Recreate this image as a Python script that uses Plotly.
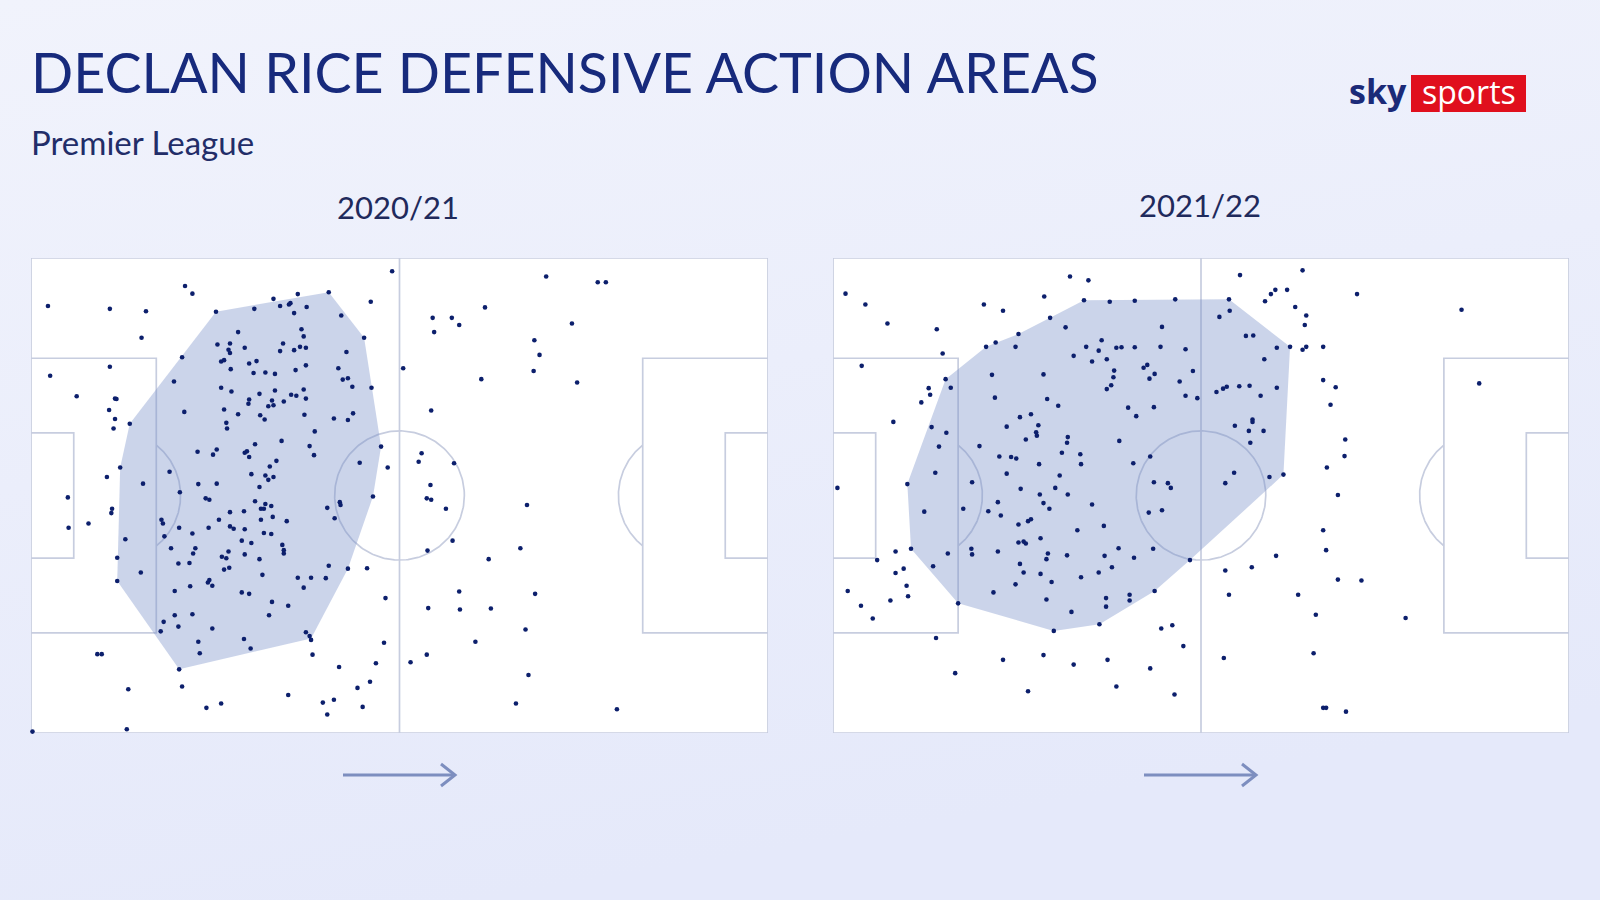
import base64
import numpy as np
import plotly.graph_objects as go

# ---------------- DATA (pitch coordinates: x 0-100 attacking left->right, y 0-100 from top touchline) ----------------
seasons = ["2020/21", "2021/22"]
title_text = "DECLAN RICE DEFENSIVE ACTION AREAS"
subtitle_text = "Premier League"

pts_2021 = [
    (49.0,2.8),(20.9,5.9),(21.9,7.5),(2.3,10.1),(10.7,10.7),(15.6,11.2),(40.4,7.2),(36.2,7.6),(32.9,8.6),(46.1,9.2),
    (30.3,10.7),(33.8,10.1),(35.0,9.8),(35.2,9.5),(37.4,10.3),(35.7,11.6),(25.1,11.3),(42.1,12.1),(15.0,16.8),(45.2,16.8),
    (28.1,15.6),(36.7,15.0),(37.0,16.5),(25.3,18.2),(27.0,18.0),(26.8,19.3),(27.0,20.0),(29.0,18.9),(34.2,18.0),(33.8,19.6),
    (35.7,19.4),(36.5,18.7),(37.3,18.9),(42.8,19.8),(20.5,20.9),(25.8,21.8),(26.2,21.5),(29.6,22.2),(30.6,21.7),(37.3,22.6),
    (10.7,22.9),(2.6,24.8),(27.1,23.4),(30.2,24.2),(31.8,24.1),(33.1,24.4),(35.9,23.6),(41.7,23.2),(42.3,25.6),(43.0,25.3),
    (19.4,26.0),(43.6,27.1),(46.2,27.3),(25.8,27.3),(27.2,28.1),(33.1,27.9),(31.0,28.6),(35.3,28.8),(36.0,29.0),(37.0,27.7),
    (37.3,29.6),(6.2,29.1),(11.4,29.6),(11.6,29.7),(29.6,29.8),(29.5,30.7),(32.7,30.0),(34.3,30.2),(32.2,31.2),(32.9,31.0),
    (10.6,32.0),(20.8,32.4),(26.2,31.9),(28.1,32.9),(31.1,33.1),(31.7,34.0),(37.1,33.0),(41.1,33.8),(43.0,34.1),(43.7,32.7),
    (11.4,33.9),(13.4,34.9),(11.2,35.9),(26.5,34.7),(26.6,35.9),(38.5,36.5),(30.4,39.2),(34.0,38.5),(37.8,39.6),(38.4,41.5),
    (47.5,39.7),(22.6,40.8),(24.7,41.4),(25.2,40.3),(29.0,41.0),(29.3,40.7),(29.6,41.9),(33.3,42.7),(44.6,43.1),(48.4,44.1),
    (12.1,44.1),(32.4,43.9),(18.8,45.0),(10.3,46.1),(29.9,45.5),(31.8,45.8),(32.2,46.7),(32.9,46.1),(15.2,47.5),(22.7,47.6),
    (25.2,47.5),(31.0,48.2),(20.2,49.3),
    (69.9,3.9),(76.9,5.1),(78.0,5.1),(61.6,10.4),(54.5,12.6),(57.1,12.6),(58.1,14.1),(54.7,15.6),(73.4,13.8),(68.3,17.3),
    (69.0,20.4),(68.2,23.8),(50.5,23.2),(61.1,25.5),(74.1,26.2),(54.3,32.1),(53.0,41.1),(52.6,42.9),(57.4,43.2),(54.2,47.8),
    (5.0,50.4),(23.7,50.6),(24.2,50.9),(30.4,51.2),(31.8,51.8),(31.2,52.8),(31.6,52.8),(32.6,52.2),(40.2,52.6),(41.9,51.4),
    (42.0,52.0),(46.4,50.2),(11.0,52.8),(10.9,53.7),(27.0,53.5),(28.9,53.3),(7.8,55.9),(5.1,56.8),(17.7,55.1),(17.9,55.9),
    (20.1,56.8),(24.1,56.8),(25.5,55.1),(27.0,56.5),(27.5,57.0),(29.0,57.1),(31.2,55.1),(32.8,54.5),(34.7,55.4),(41.2,54.8),
    (21.9,58.0),(31.6,57.9),(32.6,58.1),(18.1,58.6),(12.8,59.2),(28.6,59.5),(29.9,60.0),(34.1,60.4),(34.3,61.5),(34.3,62.2),
    (19.0,61.1),(22.3,61.1),(22.0,62.2),(26.8,61.8),(25.9,62.9),(26.5,63.2),(29.0,62.4),(31.0,63.4),(11.7,63.1),
    (20.0,64.3),(21.5,64.2),(26.9,65.2),(26.2,65.6),(40.4,64.8),(43.0,65.4),(45.6,65.3),(14.9,66.2),(31.4,66.7),(36.2,67.3),
    (38.0,67.3),(40.0,67.4),(11.7,68.0),(24.2,67.8),(24.0,68.3),(24.6,69.0),(37.0,69.4),(21.6,69.1),(19.5,70.1),(28.6,70.4),
    (29.6,70.7),(48.1,71.6),(32.7,72.4),(34.9,73.2),(32.3,75.2),(19.5,75.2),(21.9,75.0),(18.0,76.6),(17.6,78.6),(20.0,77.6),
    (24.6,78.0),(28.9,80.2),(29.8,82.2),(22.7,80.8),(22.9,83.2),(37.3,78.8),(37.8,79.6),(38.0,80.4),(38.2,83.5),(47.9,81.0),
    (46.8,85.3),(41.8,86.1),(46.0,89.2),(44.3,90.5),(20.1,86.6),(20.5,90.2),(9.0,83.4),(9.6,83.4),(13.2,90.8),(34.9,92.0),
    (25.8,93.8),(23.8,94.7),(39.6,93.6),(41.1,93.0),(40.2,96.1),(45.0,94.5),(13.0,99.2),(0.2,99.7),
    (53.7,50.6),(54.3,50.9),(56.3,52.8),(67.3,52.0),(57.2,59.5),(53.8,61.6),(66.4,61.1),(62.1,63.4),(58.1,70.2),(68.4,70.7),
    (53.9,73.7),(58.2,74.0),(62.4,73.8),(67.1,78.2),(60.3,80.8),(53.7,83.5),(51.5,85.1),(67.5,87.8),(65.8,93.8),(79.5,95.0),
]
hull_2021 = [(25.1,11.3),(40.4,7.2),(45.2,16.8),(47.5,39.7),(46.4,50.2),(43.0,65.4),(38.0,80.1),
             (20.1,86.6),(11.7,68.0),(12.1,44.1),(13.4,34.9)]

pts_2122 = [
    (1.7,7.5),(4.4,9.8),(7.4,13.8),(14.1,15.0),(14.9,20.1),(3.9,22.7),(20.5,9.8),(23.1,11.1),(28.7,8.1),(32.2,3.9),
    (34.7,4.7),(34.1,8.9),(37.6,9.2),(41.0,9.0),(46.5,8.7),(29.5,12.6),(31.6,14.6),(25.2,16.0),(20.8,18.7),(22.1,17.8),
    (24.8,18.7),(44.7,14.5),(36.5,17.3),(34.4,18.7),(36.1,19.5),(38.5,18.9),(39.2,18.8),(41.0,18.8),(44.5,18.7),(47.9,19.2),
    (32.7,20.6),(35.2,21.8),(37.2,21.3),(42.2,23.1),(42.7,22.5),(48.9,23.8),(21.6,24.6),(28.6,24.5),(38.2,23.7),(38.1,25.1),
    (43.7,24.4),(43.0,25.4),(37.8,26.8),(37.2,27.6),(47.1,26.0),(47.9,29.0),(49.5,29.5),(15.3,25.5),(16.0,27.3),(13.0,27.4),
    (13.2,28.8),(12.0,30.4),(22.0,29.4),(29.1,29.7),(30.6,31.1),(40.1,31.5),(41.2,33.3),(43.6,31.4),(8.2,34.5),(13.4,35.6),
    (15.4,36.8),(25.4,33.5),(26.9,32.9),(23.6,35.5),(27.9,35.2),(27.6,36.7),(27.7,37.4),(26.2,38.2),(31.9,37.7),(31.8,38.9),
    (38.9,38.5),(14.4,39.7),(19.9,39.6),(22.6,41.8),(24.2,41.9),(24.9,42.2),(31.1,41.0),(33.6,41.3),(33.7,43.4),(28.0,43.4),
    (43.1,41.8),(40.8,43.2),(13.9,45.2),(23.6,45.4),(30.8,45.8),(10.1,47.6),(18.9,47.2),(0.6,48.4),(25.5,48.6),(30.2,48.4),
    (31.9,49.8),(28.1,49.8),(43.6,47.2),(45.5,47.4),(45.9,48.4),
    (55.3,3.6),(63.8,2.6),(60.1,6.7),(61.7,6.7),(59.5,7.6),(58.7,9.1),(53.8,8.7),(53.9,11.1),(52.5,12.4),(62.8,10.3),
    (64.3,12.1),(64.1,14.1),(71.2,7.6),(85.4,10.9),(56.1,16.4),(57.1,16.3),(60.3,18.9),(62.1,18.7),(63.8,19.3),(64.3,18.7),
    (66.6,18.7),(58.6,21.3),(87.8,26.4),(66.6,25.7),(68.3,27.2),(67.6,30.9),(52.1,28.2),(53.0,27.5),(53.5,27.1),(55.2,27.0),
    (56.6,26.9),(58.1,29.0),(60.3,27.3),(57.0,34.0),(57.0,34.5),(54.6,35.3),(56.5,36.4),(58.5,36.4),(56.7,38.9),(69.6,38.2),
    (69.5,41.7),(67.1,44.1),(54.5,45.2),(53.3,47.4),(59.3,46.1),(61.2,45.6),(68.6,49.9),
    (22.4,51.4),(28.6,51.6),(29.4,52.8),(35.2,51.9),(42.9,53.6),(44.7,53.1),(12.4,53.4),(17.7,52.8),(21.1,53.3),(22.8,54.2),
    (25.2,56.1),(26.5,55.4),(26.9,55.0),(33.2,57.3),(36.8,56.4),(25.2,59.9),(25.9,59.7),(26.2,60.1),(28.2,59.0),(10.6,61.2),
    (8.5,61.8),(6.0,63.6),(15.6,62.2),(18.8,61.2),(18.9,62.4),(22.4,61.8),(29.2,62.2),(29.0,63.4),(31.8,62.6),(36.9,62.7),
    (38.8,61.1),(40.9,63.1),(43.5,61.2),(48.5,63.6),(13.6,64.9),(8.5,66.3),(9.6,65.4),(25.4,64.4),(25.9,66.2),(28.2,66.5),
    (37.9,65.1),(36.1,66.2),(33.7,67.2),(29.7,68.2),(24.8,68.7),(21.8,70.4),(29.0,71.9),(10.0,69.0),(10.2,71.2),(7.8,72.1),
    (2.0,70.1),(3.8,73.2),(5.4,75.9),(17.0,72.7),(37.1,71.6),(37.1,73.4),(40.3,70.9),(40.3,72.1),(43.7,70.1),(32.4,74.5),
    (36.2,77.1),(30.0,78.5),(44.6,78.0),(46.1,77.3),(47.6,81.7),(14.0,80.0),(23.1,84.6),(28.6,83.6),(32.7,85.6),(37.3,84.6),
    (43.1,86.4),(16.6,87.4),(38.5,90.2),(26.5,91.2),(46.4,91.9),
    (66.6,57.3),(67.0,61.5),(60.2,62.7),(53.3,65.8),(56.9,65.1),(68.6,67.7),(71.8,67.9),(53.8,70.9),(63.2,70.9),(65.6,75.1),
    (77.8,75.8),(53.1,84.2),(65.3,83.2),(66.6,94.7),(67.0,94.7),(69.7,95.5),
]
hull_2122 = [(10.1,47.6),(15.3,25.5),(20.8,18.7),(25.2,16.0),(29.5,12.6),(34.1,8.9),(53.8,8.7),(62.1,18.7),
             (61.2,45.6),(48.5,63.6),(43.7,70.1),(36.2,77.1),(30.0,78.5),(17.0,72.7),(10.6,61.2)]

x_2021 = [p[0] for p in pts_2021]; y_2021 = [p[1] for p in pts_2021]
x_2122 = [p[0] for p in pts_2122]; y_2122 = [p[1] for p in pts_2122]

# ---------------- STYLE ----------------
W, H = 1600, 900
NAVY = "#172a7c"
DOT = "#0c1f6c"
LINE = "#c7cddf"
HULL = "rgba(118,142,200,0.38)"
ARROW = "#7d8ebf"

RX, RY = 8.8, 13.6  # circle radii in x / y pitch units

def pitch_lines():
    xs, ys = [], []
    def seg(px_, py_):
        xs.extend(list(px_) + [None]); ys.extend(list(py_) + [None])
    seg([0, 100, 100, 0, 0], [0, 0, 100, 100, 0])
    seg([50, 50], [0, 100])
    t = np.linspace(0, 2 * np.pi, 241)
    seg(50 + RX * np.cos(t), 50 + RY * np.sin(t))
    ta = np.linspace(-np.pi / 2, np.pi / 2, 241)
    for f in (lambda v: v, lambda v: 100 - v):
        seg([f(0), f(17), f(17), f(0)], [21.1, 21.1, 78.9, 78.9])
        seg([f(0), f(5.8), f(5.8), f(0)], [36.8, 36.8, 63.2, 63.2])
        ax = 11.5 + RX * np.cos(ta); ay = 50 + RY * np.sin(ta)
        m = ax >= 17
        seg([f(v) for v in ax[m]], ay[m])
    return xs, ys

fig = go.Figure()
lx, ly = pitch_lines()
datasets = [(x_2021, y_2021, hull_2021), (x_2122, y_2122, hull_2122)]
for i, (xs, ys, hull) in enumerate(datasets):
    xa = "x" if i == 0 else "x2"
    ya = "y" if i == 0 else "y2"
    fig.add_trace(go.Scatter(x=[0, 100, 100, 0, 0], y=[0, 0, 100, 100, 0], mode="lines", fill="toself",
                             fillcolor="white", line=dict(width=0), xaxis=xa, yaxis=ya,
                             hoverinfo="skip", showlegend=False))
    fig.add_trace(go.Scatter(x=lx, y=ly, mode="lines", line=dict(color=LINE, width=1.7),
                             xaxis=xa, yaxis=ya, hoverinfo="skip", cliponaxis=False, showlegend=False))
    hx = [p[0] for p in hull] + [hull[0][0]]
    hy = [p[1] for p in hull] + [hull[0][1]]
    fig.add_trace(go.Scatter(x=hx, y=hy, mode="lines", fill="toself", fillcolor=HULL,
                             line=dict(width=0), xaxis=xa, yaxis=ya, hoverinfo="skip", showlegend=False))
    fig.add_trace(go.Scatter(x=xs, y=ys, mode="markers", marker=dict(color=DOT, size=4.6),
                             xaxis=xa, yaxis=ya, cliponaxis=False, showlegend=False, name=seasons[i]))

def px(x): return x / W
def py(y): return 1 - y / H

ax_common = dict(range=[0, 100], visible=False, showgrid=False, zeroline=False, fixedrange=True)
ay_common = dict(range=[100, 0], visible=False, showgrid=False, zeroline=False, fixedrange=True)
fig.update_layout(
    xaxis=dict(domain=[px(31), px(768)], **ax_common),
    yaxis=dict(domain=[py(733), py(258)], **ay_common),
    xaxis2=dict(domain=[px(833), px(1569)], anchor="y2", **ax_common),
    yaxis2=dict(domain=[py(733), py(258)], anchor="x2", **ay_common),
)

svg = ('<svg xmlns="http://www.w3.org/2000/svg" width="1600" height="900">'
       '<defs><linearGradient id="g" x1="0" y1="0" x2="0.3" y2="1">'
       '<stop offset="0" stop-color="#f1f3fc"/><stop offset="1" stop-color="#e5e9fa"/>'
       '</linearGradient></defs><rect width="1600" height="900" fill="url(#g)"/></svg>')
bg_src = "data:image/svg+xml;base64," + base64.b64encode(svg.encode()).decode()

annotations = [
    dict(text=title_text, x=px(29), y=py(71), xanchor="left", yanchor="middle",
         font=dict(family="Lato", size=55.5, color=NAVY)),
    dict(text=subtitle_text, x=px(29), y=py(142), xanchor="left", yanchor="middle",
         font=dict(family="Lato", size=33, color="#222d68")),
    dict(text=seasons[0], x=px(398), y=py(207), xanchor="center", yanchor="middle",
         font=dict(family="Lato", size=31, color="#1f2a5c")),
    dict(text=seasons[1], x=px(1200), y=py(205), xanchor="center", yanchor="middle",
         font=dict(family="Lato", size=31, color="#1f2a5c")),
    dict(text="<b>sky</b>", x=px(1378), y=py(91), xanchor="center", yanchor="middle",
         font=dict(family="Open Sans", size=34, color="#1b2a78")),
    dict(text="sports", x=px(1469), y=py(91), xanchor="center", yanchor="middle",
         font=dict(family="Open Sans", size=32, color="white")),
]
for a in annotations:
    a.update(xref="paper", yref="paper", showarrow=False)

shapes = [dict(type="rect", xref="paper", yref="paper", x0=px(1411), x1=px(1526), y0=py(112), y1=py(75),
               fillcolor="#e00f1d", line=dict(width=0), layer="below")]
for cx in (399, 1200):
    x0, x1, yy = cx - 56, cx + 56, 775
    shapes.append(dict(type="line", xref="paper", yref="paper", x0=px(x0), x1=px(x1), y0=py(yy), y1=py(yy),
                       line=dict(color=ARROW, width=3)))
    shapes.append(dict(type="path", xref="paper", yref="paper",
                       path=f"M {px(x1-14)} {py(yy-11)} L {px(x1)} {py(yy)} L {px(x1-14)} {py(yy+11)}",
                       line=dict(color=ARROW, width=3)))

fig.update_layout(
    width=W, height=H, margin=dict(l=0, r=0, t=0, b=0), autosize=False,
    paper_bgcolor="#eceffb", plot_bgcolor="white",
    images=[dict(source=bg_src, xref="paper", yref="paper", x=0, y=1, sizex=1, sizey=1,
                 xanchor="left", yanchor="top", sizing="stretch", layer="below")],
    annotations=annotations, shapes=shapes, showlegend=False,
)
fig.write_html("out.html", config={"displayModeBar": False},
               post_script="document.body.style.margin='0';document.body.style.padding='0';")
